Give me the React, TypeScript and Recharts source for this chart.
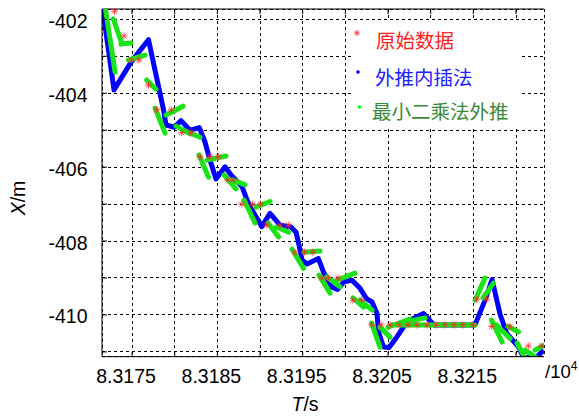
import { CartesianGrid, ComposedChart, Line, ReferenceLine, Scatter, XAxis, YAxis } from 'recharts'

const WIDTH = 579
const HEIGHT = 416
const MARGIN = { top: 9, right: 35, bottom: 19.3, left: 22 }
const Y_AXIS_W = 80
const X_AXIS_H = 40
const PLOT_LEFT = MARGIN.left + Y_AXIS_W
const PLOT_TOP = MARGIN.top
const PLOT_BOTTOM = HEIGHT - MARGIN.bottom - X_AXIS_H

const FONT = '"Liberation Sans", Arial, sans-serif'
const CJK_FONT = '"Noto Sans CJK SC", sans-serif'

// axis ranges (time in s, position in m)
const T_MIN = 83171.48
const T_MAX = 83223.28
const X_MIN = -411.13
const X_MAX = -401.72
const T_TICKS = [83175, 83180, 83185, 83190, 83195, 83200, 83205, 83210, 83215, 83220]
const X_TICKS = [-411, -410, -409, -408, -407, -406, -405, -404, -403, -402]

// raw samples
const RAW_T = [
  83172.95, 83174.06, 83174.9, 83175.8, 83176.93, 83177.89, 83179.6, 83180.82, 83181.9, 83182.97,
  83184.14, 83185.11, 83186.22, 83186.87, 83187.86, 83189.1, 83190.03, 83190.79, 83192.34, 83193.32,
  83194.1, 83195.2, 83196.2, 83197.23, 83198.0, 83199.15, 83200.9, 83201.9, 83203.09, 83204.18,
  83205.24, 83206.29, 83207.35, 83208.4, 83209.57, 83210.63, 83211.68, 83212.74, 83213.79, 83214.96,
  83215.4, 83216.57, 83217.16, 83219.3, 83221.44, 83223.0,
]
const RAW_X = [
  -401.78, -402.45, -403.1, -403.1, -403.78, -404.45, -404.45, -405.07, -405.07, -405.72,
  -405.72, -405.72, -406.35, -406.35, -407.0, -407.0, -407.0, -407.57, -407.57, -407.57,
  -408.3, -408.3, -408.3, -409.0, -409.0, -409.0, -409.6, -409.6, -410.27, -410.27,
  -410.27, -410.27, -410.27, -410.27, -410.27, -410.27, -410.27, -410.27, -410.27, -410.27,
  -409.57, -409.57, -410.31, -410.31, -410.84, -410.84,
]

// extrapolation + interpolation track
const INTERP_T = [
  83171.54, 83172.89, 83174.96, 83176.93, 83178.69, 83178.98, 83179.96, 83180.74, 83181.8, 83182.89,
  83183.55, 83184.14, 83184.84, 83185.9, 83186.6, 83187.89, 83188.48, 83189.06, 83190.2, 83191.17,
  83192.34, 83193.63, 83194.22, 83194.57, 83194.92, 83195.51, 83196.83, 83197.42, 83198.44, 83199.08,
  83199.85, 83200.78, 83201.72, 83202.48, 83203.13, 83203.71, 83203.89, 83204.47, 83205.12, 83206.06,
  83207.23, 83209.16, 83209.98, 83210.39, 83215.2, 83216.37, 83217.19, 83218.13, 83218.91, 83220.27,
  83220.88, 83222.4, 83223.22,
]
const INTERP_X = [
  -401.69, -403.91, -403.13, -402.55, -404.45, -404.86, -404.92, -404.74, -405.0, -404.93,
  -405.32, -405.81, -406.32, -405.99, -406.21, -406.53, -406.89, -407.16, -407.61, -407.25,
  -407.57, -407.62, -407.76, -408.11, -408.51, -408.62, -408.47, -408.83, -409.25, -409.31,
  -409.1, -409.06, -409.28, -409.56, -409.65, -409.96, -410.46, -410.87, -410.88, -410.59,
  -410.18, -409.96, -410.17, -410.27, -410.27, -409.6, -409.04, -409.98, -410.5, -410.86,
  -411.15, -411.15, -410.95,
]

// least-squares extrapolation pieces: [t0, x0, t1, x1]
const LSQ_SEGMENTS: [number, number, number, number][] = [
  [83171.89, -401.72, 83173.01, -403.43],
  [83172.81, -401.99, 83173.83, -402.67],
  [83173.71, -402.67, 83174.88, -402.64],
  [83174.59, -403.1, 83176.52, -402.97],
  [83176.72, -403.64, 83177.81, -403.89],
  [83177.7, -404.4, 83178.87, -405.08],
  [83178.98, -404.59, 83180.98, -404.35],
  [83180.16, -404.89, 83181.8, -405.1],
  [83181.21, -405.02, 83182.97, -405.19],
  [83182.85, -405.67, 83183.96, -406.27],
  [83183.79, -405.81, 83186.02, -405.7],
  [83185.78, -406.21, 83187.19, -406.59],
  [83186.84, -406.35, 83188.24, -406.48],
  [83188.13, -406.89, 83189.41, -407.51],
  [83189.53, -407.08, 83191.17, -406.93],
  [83190.94, -407.51, 83192.17, -407.89],
  [83191.93, -407.62, 83193.34, -407.76],
  [83193.75, -408.22, 83195.1, -408.74],
  [83195.16, -408.3, 83197.03, -408.27],
  [83196.91, -408.92, 83198.2, -409.41],
  [83197.82, -408.97, 83199.38, -409.24],
  [83199.02, -409.06, 83201.13, -408.87],
  [83200.9, -409.54, 83202.13, -409.79],
  [83201.72, -409.6, 83203.13, -409.87],
  [83203.07, -410.22, 83204.06, -410.87],
  [83204.06, -410.33, 83205.23, -410.6],
  [83205.0, -410.33, 83207.58, -410.11],
  [83207.0, -410.19, 83209.34, -410.08],
  [83205.47, -410.27, 83215.2, -410.27],
  [83215.2, -409.6, 83216.37, -409.0],
  [83216.13, -409.54, 83217.36, -409.14],
  [83217.13, -410.14, 83218.36, -410.73],
  [83217.71, -410.27, 83219.3, -410.64],
  [83219.06, -410.31, 83220.29, -410.46],
  [83220.12, -410.76, 83221.29, -411.27],
  [83221.05, -410.95, 83222.46, -411.17],
  [83222.23, -410.95, 83223.4, -410.81],
]

const RED = '#ff2a2a'
const BLUE = '#0000ff'
const GREEN = '#18e418'

const rawData = RAW_T.map((t, i) => ({ t, x: RAW_X[i] }))
const interpData = INTERP_T.map((t, i) => ({ t, x: INTERP_X[i] }))
// a null point after each piece keeps the pieces apart
const lsqData = LSQ_SEGMENTS.flatMap(([t0, x0, t1, x1]) => [
  { t: t0, x: x0 },
  { t: t1, x: x1 },
  { t: t1, x: null },
])

function Asterisk({ cx, cy, r = 3.6 }: { cx: number; cy: number; r?: number }) {
  const d = r * 0.72
  return (
    <g stroke={RED} strokeWidth={0.8}>
      <line x1={cx - r} y1={cy} x2={cx + r} y2={cy} />
      <line x1={cx} y1={cy - r} x2={cx} y2={cy + r} />
      <line x1={cx - d} y1={cy - d} x2={cx + d} y2={cy + d} />
      <line x1={cx - d} y1={cy + d} x2={cx + d} y2={cy - d} />
    </g>
  )
}

function TimeTick({ x, payload }: any) {
  const t = payload.value as number
  const labelled = Math.round(t) % 10 === 5
  return (
    <g>
      <line x1={x} x2={x} y1={PLOT_BOTTOM} y2={PLOT_BOTTOM - 5} stroke="#000" />
      <line x1={x} x2={x} y1={PLOT_TOP} y2={PLOT_TOP + 5} stroke="#000" />
      {labelled && (
        <text x={x - 6} y={382.5} textAnchor="middle" fontFamily={FONT} fontSize={19.5} fill="#000">
          {(t / 1e4).toFixed(4)}
        </text>
      )}
    </g>
  )
}

function PosTick({ y, payload }: any) {
  const v = payload.value as number
  const labelled = v % 2 === 0
  return (
    <g>
      <line x1={PLOT_LEFT} x2={PLOT_LEFT + 5} y1={y} y2={y} stroke="#000" />
      {labelled && (
        <text x={87.5} y={y + 8.5} textAnchor="end" fontFamily={FONT} fontSize={19.5} fill="#000">
          {String(v)}
        </text>
      )}
    </g>
  )
}

function Overlay() {
  return (
    <svg width={WIDTH} height={HEIGHT} style={{ position: 'absolute', left: 0, top: 0, pointerEvents: 'none' }}>
      {/* legend */}
      <rect x={353} y={21} width={166} height={106} fill="#fff" />
      <Asterisk cx={357} cy={33} r={3.2} />
      <text x={376} y={39.5} dominantBaseline="central" fontFamily={CJK_FONT} fontSize={19.5} fill="#ff2020">
        原始数据
      </text>
      <circle cx={358} cy={72} r={1.8} fill={BLUE} />
      <text x={375} y={76} dominantBaseline="central" fontFamily={CJK_FONT} fontSize={19.5} fill="#2020ff">
        外推内插法
      </text>
      <circle cx={359.5} cy={107} r={1.8} fill="#00ff00" />
      <text x={372} y={110.5} dominantBaseline="central" fontFamily={CJK_FONT} fontSize={19.5} fill="#3a8a3a">
        最小二乘法外推
      </text>

      {/* axis titles */}
      <text
        transform="translate(25,198) rotate(-90)"
        textAnchor="middle"
        fontFamily={FONT}
        fontSize={19.5}
        fill="#000"
      >
        <tspan fontStyle="italic">X</tspan>/m
      </text>
      <text x={305} y={411} textAnchor="middle" fontFamily={FONT} fontSize={19.5} fill="#000">
        <tspan fontStyle="italic">T</tspan>/s
      </text>
      <text x={545} y={377.5} fontFamily={FONT} fontSize={18.5} fill="#000">
        /10
        <tspan fontSize={12} dy={-8}>
          4
        </tspan>
      </text>
    </svg>
  )
}

export default function App() {
  return (
    <div style={{ position: 'absolute', left: 0, top: 0, width: WIDTH, height: HEIGHT, background: '#fff' }}>
      <ComposedChart width={WIDTH} height={HEIGHT} margin={MARGIN}>
        <CartesianGrid stroke="#000" strokeDasharray="3 3" shapeRendering="crispEdges" />
        <XAxis
          type="number"
          dataKey="t"
          domain={[T_MIN, T_MAX]}
          ticks={T_TICKS}
          allowDataOverflow
          height={X_AXIS_H}
          axisLine={{ stroke: '#000' }}
          tickLine={false}
          tick={<TimeTick />}
          interval={0}
        />
        <YAxis
          type="number"
          dataKey="x"
          domain={[X_MIN, X_MAX]}
          ticks={X_TICKS}
          allowDataOverflow
          width={Y_AXIS_W}
          axisLine={{ stroke: '#000' }}
          tickLine={false}
          tick={<PosTick />}
          interval={0}
        />
        <ReferenceLine y={X_MAX} stroke="#000" />
        <Scatter
          data={rawData}
          dataKey="x"
          isAnimationActive={false}
          shape={(p: any) => <Asterisk cx={p.cx} cy={p.cy} />}
        />
        <Line
          data={interpData}
          dataKey="x"
          stroke={BLUE}
          strokeWidth={5}
          strokeLinejoin="round"
          dot={false}
          activeDot={false}
          isAnimationActive={false}
        />
        <Line
          data={lsqData}
          dataKey="x"
          stroke={GREEN}
          strokeWidth={5}
          strokeLinecap="round"
          connectNulls={false}
          dot={false}
          activeDot={false}
          isAnimationActive={false}
        />
      </ComposedChart>
      <Overlay />
    </div>
  )
}
